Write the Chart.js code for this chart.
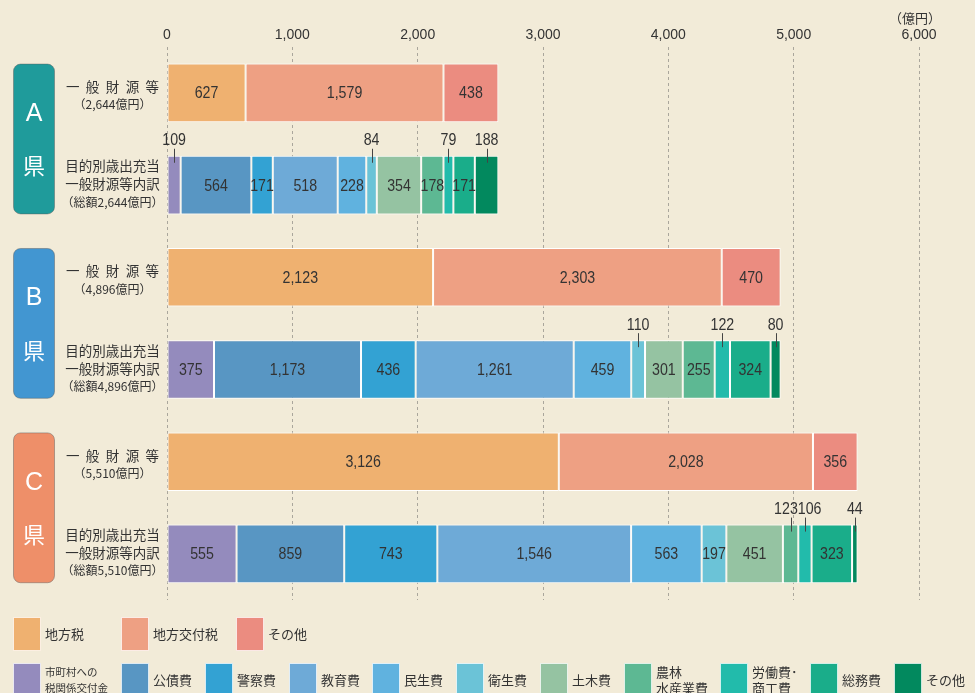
<!DOCTYPE html>
<html lang="ja">
<head>
<meta charset="utf-8">
<script src="https://cdn.jsdelivr.net/npm/chart.js@4.4.1/dist/chart.umd.min.js"></script>
<style>
  html, body { margin: 0; padding: 0; background: #f2ebd8; }
  #wrap { width: 975px; height: 693px; }
</style>
</head>
<body>
<div id="wrap"><canvas id="budgetChart" width="975" height="693"></canvas></div>
<script>
// prefectures / rows
const prefs = ["A", "B", "C"];
const rowLabels = ["A県 一般財源等", "A県 内訳", "B県 一般財源等", "B県 内訳", "C県 一般財源等", "C県 内訳"];

// revenue (億円)
const revenueNames = ["地方税", "地方交付税", "その他"];
const revenueA = [627, 1579, 438];
const revenueB = [2123, 2303, 470];
const revenueC = [3126, 2028, 356];

// expenditure breakdown (億円)
const expenseNames = ["市町村への\n税関係交付金", "公債費", "警察費", "教育費", "民生費", "衛生費", "土木費", "農林\n水産業費", "労働費･\n商工費", "総務費", "その他"];
const expenseA = [109, 564, 171, 518, 228, 84, 354, 178, 79, 171, 188];
const expenseB = [375, 1173, 436, 1261, 459, 110, 301, 255, 122, 324, 80];
const expenseC = [555, 859, 743, 1546, 563, 197, 451, 123, 106, 323, 44];

// breakdown values that are written above the bar
const labelAbove = [[0, 5, 8, 10], [5, 8, 10], [7, 8, 10]];

const xMax = 6000;
const xStep = 1000;

// colours
const revenueColors = ["#efb170", "#eea083", "#eb8c80"];
const expenseColors = ["#948bbd", "#5896c3", "#33a2d3", "#6eaad7", "#60b2df", "#6bc3d7", "#95c3a2", "#5db893", "#22bbab", "#1aad8a", "#02895e"];
const prefColors = ["#1f9b9b", "#4296d1", "#ee8f69"];

// legend layout
const legendRow1X = [13, 121, 236];
const legendRow2X = [13, 121, 205, 289, 372, 456, 540, 624, 720, 810, 894];

const revenueRows = [revenueA, revenueB, revenueC];
const expenseRows = [expenseA, expenseB, expenseC];

const jpFont = '"Noto Sans CJK JP", sans-serif';
const numFont = '"Liberation Sans", Arial, sans-serif';
const textColor = "#333333";
const squeeze = 0.86; // value labels are set in a condensed face

const datasets = [];
revenueNames.forEach((name, i) => {
    datasets.push({
        label: name,
        data: [revenueA[i], null, revenueB[i], null, revenueC[i], null],
        backgroundColor: revenueColors[i],
        kind: "rev",
        idx: i
    });
});
expenseNames.forEach((name, i) => {
    datasets.push({
        label: name,
        data: [null, expenseA[i], null, expenseB[i], null, expenseC[i]],
        backgroundColor: expenseColors[i],
        kind: "exp",
        idx: i
    });
});

function fmt(v) {
    return v.toLocaleString("en-US");
}

function narrowText(ctx, text, x, y) {
    ctx.save();
    ctx.translate(x, y);
    ctx.scale(squeeze, 1);
    ctx.textAlign = "center";
    ctx.fillText(text, 0, 0);
    ctx.restore();
}

function drawSpaced(ctx, text, cx, y, gap) {
    const chars = Array.from(text);
    const widths = chars.map(c => ctx.measureText(c).width);
    const total = widths.reduce((a, b) => a + b, 0) + gap * (chars.length - 1);
    let x = cx - total / 2;
    ctx.textAlign = "left";
    chars.forEach((c, i) => {
        ctx.fillText(c, x, y);
        x += widths[i] + gap;
    });
}

const decor = {
    id: "decor",
    beforeDraw(chart) {
        const ctx = chart.ctx;
        ctx.save();
        ctx.fillStyle = "#f2ebd8";
        ctx.fillRect(0, 0, chart.width, chart.height);
        ctx.restore();
    },
    afterDatasetsDraw(chart) {
        const ctx = chart.ctx;
        ctx.save();
        ctx.font = "16.5px " + numFont;
        ctx.fillStyle = textColor;
        ctx.textBaseline = "middle";

        const above = [[], [], []];
        chart.data.datasets.forEach((ds, di) => {
            const meta = chart.getDatasetMeta(di);
            meta.data.forEach((el, row) => {
                const v = ds.data[row];
                if (v == null) return;
                const p = el.getProps(["x", "y", "base", "height"], true);
                const cx = (p.x + p.base) / 2;
                const pref = Math.floor(row / 2);
                if (ds.kind === "exp" && labelAbove[pref].includes(ds.idx)) {
                    above[pref].push({ text: fmt(v), cx: cx, tx: cx, top: p.y - p.height / 2, w: ctx.measureText(fmt(v)).width * squeeze });
                } else {
                    narrowText(ctx, fmt(v), cx, p.y + 1);
                }
            });
        });

        // labels above the bar, with a small leader line
        above.forEach(list => {
            list.sort((a, b) => a.cx - b.cx);
            for (let i = 1; i < list.length; i++) {
                const a = list[i - 1], b = list[i];
                const need = (a.w + b.w) / 2;
                const d = b.tx - a.tx;
                if (d < need) {
                    const push = (need - d) / 2;
                    a.tx -= push;
                    b.tx += push;
                }
            }
            list.forEach(l => {
                narrowText(ctx, l.text, l.tx, l.top - 15);
                ctx.strokeStyle = "#444";
                ctx.lineWidth = 1;
                ctx.beginPath();
                ctx.moveTo(Math.round(l.cx) + 0.5, l.top - 7);
                ctx.lineTo(Math.round(l.cx) + 0.5, l.top + 7);
                ctx.stroke();
            });
        });
        ctx.restore();
    },
    afterDraw(chart) {
        const ctx = chart.ctx;
        const xs = chart.scales.x;
        const revMeta = chart.getDatasetMeta(0);
        const expMeta = chart.getDatasetMeta(revenueNames.length);
        ctx.save();
        ctx.textBaseline = "middle";

        // unit
        ctx.fillStyle = textColor;
        ctx.font = "13px " + jpFont;
        ctx.textAlign = "center";
        ctx.fillText("（億円）", xs.getPixelForValue(xMax) - 4, 18);

        prefs.forEach((pref, k) => {
            const r1 = revMeta.data[k * 2].getProps(["y", "height"], true);
            const r2 = expMeta.data[k * 2 + 1].getProps(["y", "height"], true);
            const top = r1.y - r1.height / 2;
            const bottom = r2.y + r2.height / 2;
            const mid = (top + bottom) / 2;

            // prefecture box
            ctx.fillStyle = prefColors[k];
            ctx.strokeStyle = "rgba(90,90,90,0.45)";
            ctx.lineWidth = 1;
            ctx.beginPath();
            ctx.roundRect(13.5, top + 0.5, 41, bottom - top - 1, 7);
            ctx.fill();
            ctx.stroke();
            ctx.fillStyle = "#ffffff";
            ctx.textAlign = "center";
            ctx.font = "25px " + numFont;
            ctx.fillText(pref, 34, mid - 25);
            ctx.font = "22px " + jpFont;
            ctx.fillText("県", 34, mid + 27);

            // row texts
            const revTotal = revenueRows[k].reduce((a, b) => a + b, 0);
            const expTotal = expenseRows[k].reduce((a, b) => a + b, 0);
            ctx.fillStyle = textColor;
            ctx.font = "13.5px " + jpFont;
            drawSpaced(ctx, "一般財源等", 112.5, r1.y - 6, 6.4);
            ctx.textAlign = "center";
            ctx.font = "12px " + jpFont;
            ctx.fillText("（" + fmt(revTotal) + "億円）", 112.5, r1.y + 12);

            ctx.font = "13.5px " + jpFont;
            ctx.fillText("目的別歳出充当", 112.5, r2.y - 19);
            ctx.fillText("一般財源等内訳", 112.5, r2.y - 1);
            ctx.font = "12px " + jpFont;
            ctx.fillText("（総額" + fmt(expTotal) + "億円）", 112.5, r2.y + 17);
        });

        // legend
        function legendItem(x, y, color, text) {
            ctx.fillStyle = color;
            ctx.fillRect(x, y, 28, 34);
            ctx.strokeStyle = "rgba(255,255,255,0.8)";
            ctx.lineWidth = 1;
            ctx.strokeRect(x + 0.5, y + 0.5, 27, 33);
            ctx.fillStyle = textColor;
            ctx.textAlign = "left";
            const lines = text.split("\n");
            const longest = Math.max(...lines.map(s => s.length));
            ctx.font = (longest > 5 ? "10.5px " : "13px ") + jpFont;
            if (lines.length === 1) {
                ctx.fillText(lines[0], x + 32, y + 17);
            } else {
                ctx.fillText(lines[0], x + 32, y + 9);
                ctx.fillText(lines[1], x + 32, y + 25);
            }
        }
        revenueNames.forEach((n, i) => legendItem(legendRow1X[i], 617, revenueColors[i], n));
        expenseNames.forEach((n, i) => legendItem(legendRow2X[i], 663, expenseColors[i], n));

        ctx.restore();
    }
};

const ctx = document.getElementById("budgetChart").getContext("2d");

new Chart(ctx, {
    type: "bar",
    data: {
        labels: rowLabels,
        datasets: datasets
    },
    options: {
        indexAxis: "y",
        responsive: false,
        animation: false,
        devicePixelRatio: 1,
        layout: {
            padding: { left: 167, right: 56, top: 24, bottom: 93 }
        },
        datasets: {
            bar: {
                categoryPercentage: 1,
                barPercentage: 0.636,
                borderColor: "#ffffff",
                borderWidth: 1,
                borderSkipped: false
            }
        },
        plugins: {
            legend: { display: false },
            tooltip: { enabled: false }
        },
        scales: {
            x: {
                position: "top",
                stacked: true,
                min: 0,
                max: xMax,
                ticks: {
                    stepSize: xStep,
                    color: textColor,
                    padding: 3,
                    font: { family: "Liberation Sans", size: 14 },
                    callback: v => fmt(v)
                },
                grid: {
                    color: "#aaa69c",
                    lineWidth: 1,
                    drawTicks: false
                },
                border: { display: false, dash: [3, 3] }
            },
            y: {
                display: false,
                stacked: true
            }
        }
    },
    plugins: [decor]
});
</script>
</body>
</html>
